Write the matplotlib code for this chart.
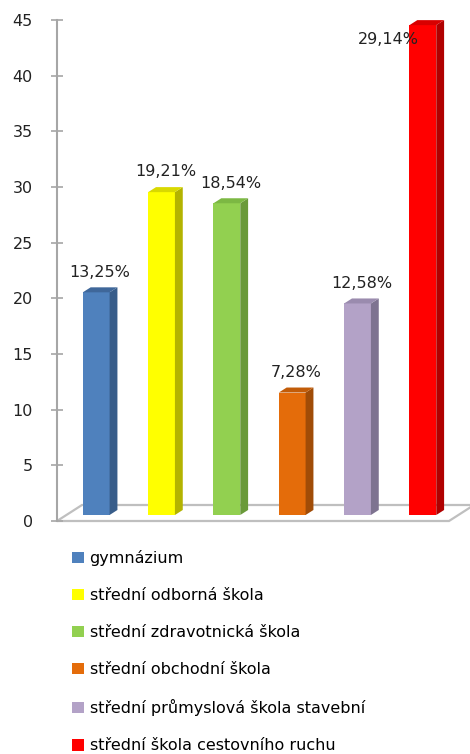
import matplotlib
matplotlib.use('Agg')
import matplotlib.pyplot as plt
import matplotlib.transforms as mtransforms
from matplotlib.patches import Polygon

categories = ['gymnázium', 'střední odborná škola', 'střední zdravotnická škola',
              'střední obchodní škola', 'střední průmyslová škola stavební',
              'střední škola cestovního ruchu']
values = [20, 29, 28, 11, 19, 44]
colors = ['#4F81BD', '#FFFF00', '#92D050', '#E46C0A', '#B3A2C7', '#FF0000']
side_colors = ['#385D8A', '#B3B300', '#6A9A3A', '#A04C07', '#7E7390', '#B00000']
top_colors = ['#3F679A', '#D9D900', '#7CB843', '#C25C08', '#9A8BAE', '#D80000']
yticks = [0, 5, 10, 15, 20, 25, 30, 35, 40, 45]

total = sum(values)
pct_labels = [('%.2f%%' % (v / total * 100)).replace('.', ',') for v in values]

fig = plt.figure(figsize=(4.7, 7.54), dpi=100)
ax = fig.add_axes([57 / 470, 1 - 521 / 754, 392 / 470, 501 / 754])
ax.set_xlim(-0.6, 5.4)
ax.set_ylim(0, 45)

# floor of the 3d chart
fdx, fdy = 25 / 392, 16 / 501
floor = Polygon([(0, 0), (1, 0), (1 + fdx, fdy), (fdx, fdy)], closed=True,
                facecolor='white', edgecolor='#BFBFBF', lw=1.6,
                transform=ax.transAxes, clip_on=False, zorder=1)
ax.add_patch(floor)

# bars sit a little above the floor front edge
shift = mtransforms.ScaledTranslation(0, 0.06, fig.dpi_scale_trans)
trans = ax.transData + shift
x = list(range(len(values)))
w = 0.41
dx, dy = 0.12, 0.45  # depth of the bars

bars = ax.bar(x, values, width=w, color=colors, zorder=3)
for i, b in enumerate(bars):
    b.set_transform(trans)
    b.set_clip_on(False)
    b.set_label(categories[i])
    xr = x[i] + w / 2
    xl = x[i] - w / 2
    v = values[i]
    side = Polygon([(xr, 0), (xr + dx, dy), (xr + dx, v + dy), (xr, v)], closed=True,
                   facecolor=side_colors[i], edgecolor='none', transform=trans,
                   clip_on=False, zorder=3)
    top = Polygon([(xl, v), (xr, v), (xr + dx, v + dy), (xl + dx, v + dy)], closed=True,
                  facecolor=top_colors[i], edgecolor='none', transform=trans,
                  clip_on=False, zorder=3)
    ax.add_patch(side)
    ax.add_patch(top)

    if v > 42:
        ax.annotate(pct_labels[i], (x[i] - 0.06, v), xytext=(0, -10), textcoords='offset points',
                    xycoords=trans, ha='right', va='center', fontsize=11.5, color='#222222',
                    zorder=5, annotation_clip=False)
    else:
        ax.annotate(pct_labels[i], (x[i] + dx / 2, v), xytext=(0, 14.5), textcoords='offset points',
                    xycoords=trans, ha='center', va='center', fontsize=11.5, color='#222222',
                    zorder=5, annotation_clip=False)

for s in ['top', 'right', 'bottom']:
    ax.spines[s].set_visible(False)
ax.spines['left'].set_color('#A6A6A6')
ax.spines['left'].set_linewidth(1.5)
ax.set_yticks(yticks)
ax.set_xticks([])
ax.tick_params(axis='y', direction='inout', length=9, width=1.2, color='#A6A6A6',
               labelsize=11.5, labelcolor='#222222', pad=13)

fig.legend(handles=list(bars), labels=categories, loc='upper left',
           bbox_to_anchor=(72 / 470, 1 - 550 / 754), frameon=False,
           fontsize=11.5, handlelength=0.75, handleheight=0.75, handletextpad=0.35,
           labelspacing=1.38, borderpad=0, borderaxespad=0)

fig.savefig('out.png', dpi=100)
